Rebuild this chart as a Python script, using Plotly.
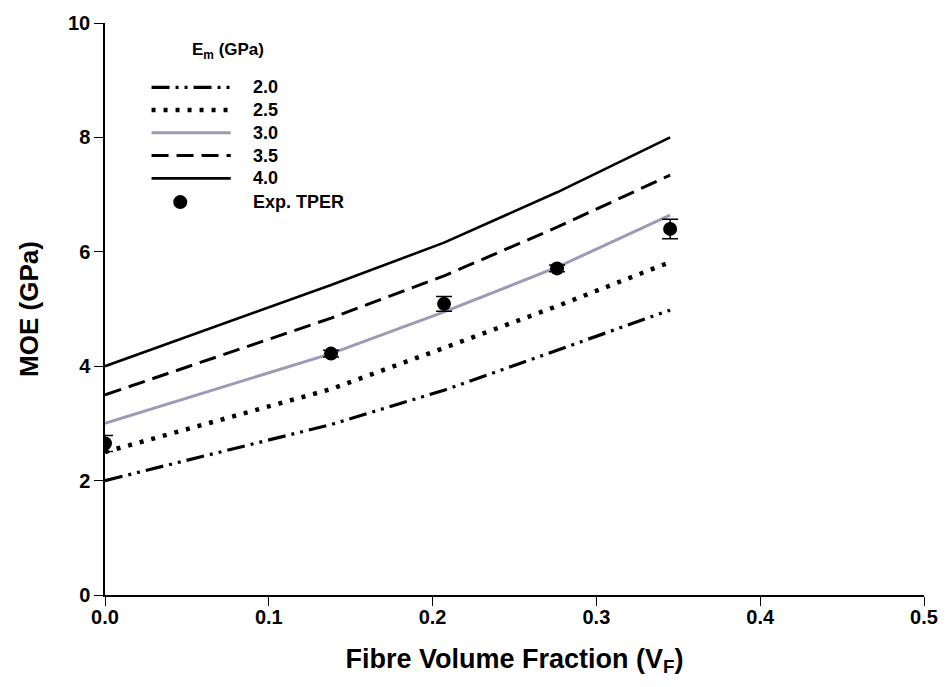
import plotly.graph_objects as go

# Fibre volume fractions at which model curves were evaluated
vf = [0.0, 0.138, 0.207, 0.276, 0.345]

# Model curves for different matrix moduli Em (GPa)
em_labels = ["2.0", "2.5", "3.0", "3.5", "4.0"]
moe_20 = [2.0, 2.98, 3.58, 4.28, 4.98]
moe_25 = [2.5, 3.60, 4.32, 5.05, 5.82]
moe_30 = [3.0, 4.22, 4.95, 5.73, 6.64]
moe_35 = [3.5, 4.84, 5.58, 6.43, 7.34]
moe_40 = [4.0, 5.42, 6.16, 7.04, 8.00]

# Experimental TPER data
exp_label = "Exp. TPER"
exp_vf = [0.0, 0.138, 0.207, 0.276, 0.345]
exp_moe = [2.65, 4.22, 5.09, 5.71, 6.40]
exp_err = [0.14, 0.06, 0.13, 0.06, 0.17]

x_ticks = [0.0, 0.1, 0.2, 0.3, 0.4, 0.5]
y_ticks = [0, 2, 4, 6, 8, 10]

FONT = "Liberation Sans, Arial, sans-serif"
W, H = 950, 687
ML, MR, MT, MB = 105, 18, 17, 92
PW, PH = W - ML - MR, H - MT - MB


def px_x(p):
    return (p - ML) / PW


def px_y(p):
    return (H - MB - p) / PH


styles = [
    dict(color="black", width=3.2, dash="18px,6px,3px,6px,3px,6px"),
    dict(color="black", width=4.5, dash="4px,8px"),
    dict(color="#9b9bb8", width=3),
    dict(color="black", width=3, dash="17px,8px"),
    dict(color="black", width=2.6),
]

fig = go.Figure()
for lab, ys, st in zip(em_labels, [moe_20, moe_25, moe_30, moe_35, moe_40], styles):
    fig.add_trace(go.Scatter(x=vf, y=ys, mode="lines", name=lab, line=st, showlegend=False))

fig.add_trace(go.Scatter(
    x=exp_vf, y=exp_moe, mode="markers", name=exp_label, showlegend=False,
    marker=dict(color="black", size=14),
    error_y=dict(type="data", array=exp_err, visible=True, color="black", thickness=1.5, width=8),
))

# ---- legend drawn in the upper-left corner (SigmaPlot style) ----
shapes = []
annotations = []
row_y = [82, 105, 128, 151, 174, 198]
line_x0, line_x1, text_x = 152, 232, 252
leg_font = dict(family=FONT, size=18, color="black")

annotations.append(dict(
    text="<b>E<sub>m</sub> (GPa)</b>", xref="paper", yref="paper",
    x=px_x(191), y=px_y(45), xanchor="left", yanchor="middle",
    showarrow=False, font=dict(family=FONT, size=17, color="black"),
))
for lab, st, ry in zip(em_labels, styles, row_y[:5]):
    shapes.append(dict(type="line", xref="paper", yref="paper",
                       x0=px_x(line_x0), x1=px_x(line_x1), y0=px_y(ry), y1=px_y(ry),
                       line=st))
    annotations.append(dict(text=f"<b>{lab}</b>", xref="paper", yref="paper",
                            x=px_x(text_x), y=px_y(ry), xanchor="left", yanchor="middle",
                            showarrow=False, font=leg_font))
# experimental symbol
shapes.append(dict(type="circle", xref="paper", yref="paper", xsizemode="pixel", ysizemode="pixel",
                   xanchor=px_x(181), yanchor=px_y(row_y[5]), x0=-7, x1=7, y0=-7, y1=7,
                   fillcolor="black", line=dict(color="black", width=0)))
annotations.append(dict(text=f"<b>{exp_label}</b>", xref="paper", yref="paper",
                        x=px_x(text_x), y=px_y(row_y[5]), xanchor="left", yanchor="middle",
                        showarrow=False, font=leg_font))

fig.update_layout(
    width=W, height=H,
    margin=dict(l=ML, r=MR, t=MT, b=MB),
    paper_bgcolor="white", plot_bgcolor="white",
    font=dict(family=FONT, color="black"),
    showlegend=False,
    shapes=shapes,
    annotations=annotations,
)

fig.update_xaxes(
    range=[0, 0.5], tickvals=x_ticks, ticktext=[f"<b>{v:.1f}</b>" for v in x_ticks],
    showgrid=False, zeroline=False, showline=True, linecolor="black", linewidth=1.5,
    ticks="outside", ticklen=9, tickwidth=1.2, tickcolor="black", ticklabelstandoff=-6,
    tickfont=dict(family=FONT, size=20, color="black"),
    title=dict(text="<b>Fibre Volume Fraction (V<sub>F</sub>)</b>",
               font=dict(family=FONT, size=27, color="black"), standoff=22),
)
fig.update_yaxes(
    range=[0, 10], tickvals=y_ticks, ticktext=[f"<b>{v}</b>" for v in y_ticks],
    showgrid=False, zeroline=False, showline=True, linecolor="black", linewidth=1.5,
    ticks="outside", ticklen=9, tickwidth=1.2, tickcolor="black",
    tickfont=dict(family=FONT, size=20, color="black"),
    title=dict(text="<b>MOE (GPa)</b>", font=dict(family=FONT, size=26, color="black"), standoff=22),
)

fig.write_html("out.html")
